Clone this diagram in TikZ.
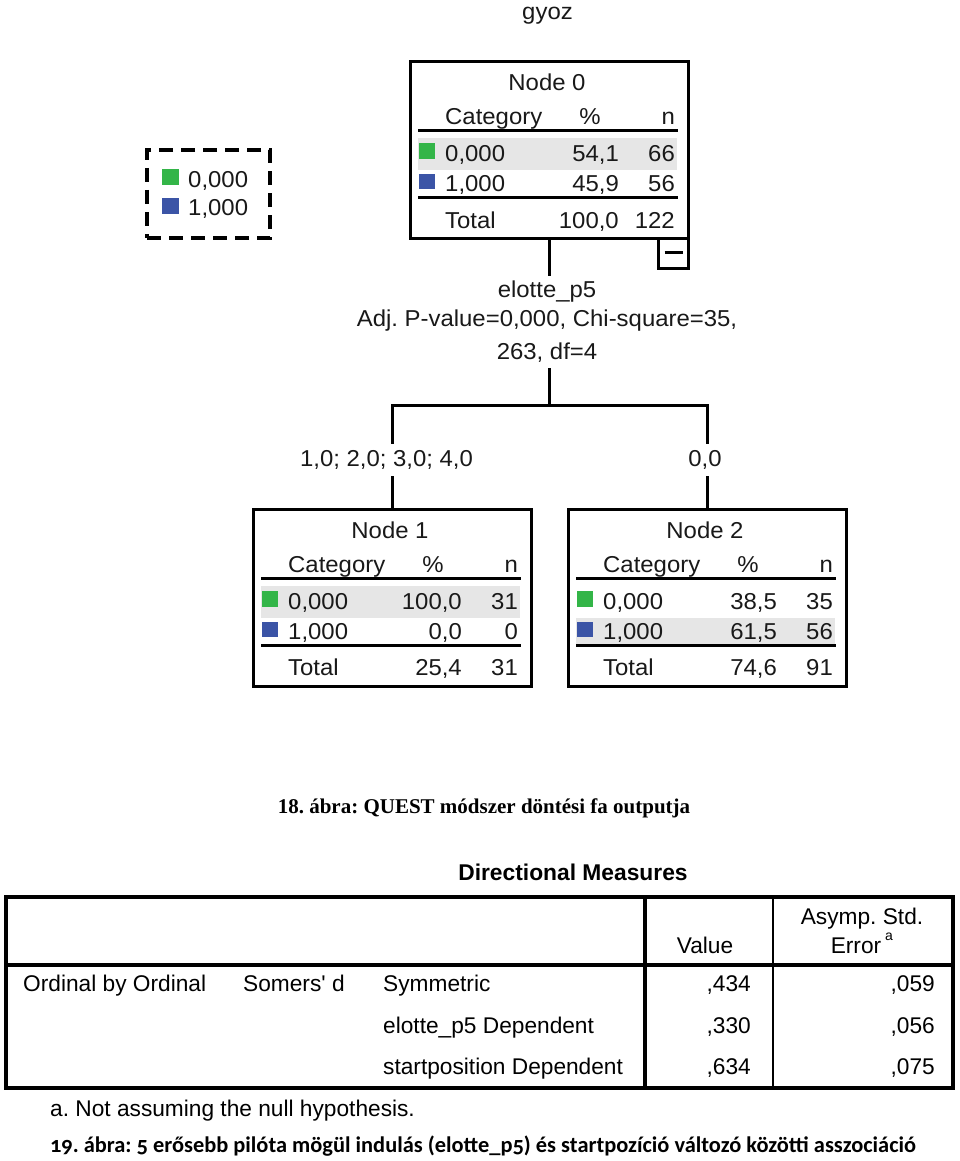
\documentclass[tikz,border=0pt]{standalone}
\usepackage{fontspec}
\usetikzlibrary{calc}
\newfontfamily\treefont[FakeStretch=1.04]{Liberation Sans}
\newfontfamily\tabfont{Liberation Sans}
\newfontfamily\capfontA{Liberation Serif}
\newfontfamily\capfontB[Numbers=OldStyle]{Carlito}
\definecolor{catgreen}{HTML}{33B548}
\definecolor{catblue}{HTML}{3B54A6}
\definecolor{bandgray}{HTML}{E6E6E6}
\frenchspacing
\tikzset{
  treetext/.style={font=\treefont\fontsize{23}{28}\selectfont, inner sep=0pt, text=black!90},
  tabtext/.style={font=\tabfont\fontsize{22.7}{27}\selectfont, inner sep=0pt},
  treebox/.style={draw, line width=3pt, minimum width=278.5pt, minimum height=177pt,
    inner sep=0pt, outer sep=0pt, anchor=north west},
  rulel/.style={line width=3pt},
  conn/.style={line width=3pt},
  brlabel/.style={treetext, text height=16pt, text depth=4pt, inner ysep=6pt, anchor=base},
}
\newcommand\NodeBody[8]{%
  \node[treebox] (#1) at (0,0) {};
  \node[treetext, anchor=base] (#1t) at (137,29.5) {#2};
  \node[treetext, anchor=base west] (#1c) at (35,63.5) {Category};
  \node[treetext, anchor=base] (#1p) at (180,63.5) {\%};
  \node[treetext, anchor=base east] (#1n) at (265,63.5) {n};
  \draw[rulel] (8,69.5) -- (268,69.5);
  \fill[catgreen] (9,81.5) rectangle (25,97.5);
  \fill[catblue] (9,112.5) rectangle (25,127.5);
  \node[treetext, anchor=base west] (#1a) at (35,100) {0,000};
  \node[treetext, anchor=base east] (#1ap) at (209,100) {#3};
  \node[treetext, anchor=base east] (#1an) at (265,100) {#4};
  \node[treetext, anchor=base west] (#1b) at (35,130) {1,000};
  \node[treetext, anchor=base east] (#1bp) at (209,130) {#5};
  \node[treetext, anchor=base east] (#1bn) at (265,130) {#6};
  \draw[rulel] (8,136) -- (268,136);
  \node[treetext, anchor=base west] (#1s) at (35,166.5) {Total};
  \node[treetext, anchor=base east] (#1sp) at (209,166.5) {#7};
  \node[treetext, anchor=base east] (#1sn) at (265,166.5) {#8};
}
\begin{document}
\begin{tikzpicture}[x=1pt,y=-1pt]
\useasboundingbox[fill=white] (0,0) rectangle (960,1161);

% title
\node[treetext, anchor=base] (gyoz) at (547.5,20) {gyoz};

% legend
\node[draw, dash pattern=on 14pt off 8pt, line width=3.5pt, minimum width=123pt,
  minimum height=88pt, anchor=north west, outer sep=0pt, inner sep=0pt] (legend) at (147,150) {};
\fill[catgreen] (162,169) rectangle (179,185);
\fill[catblue] (162,198) rectangle (179,214);
\node[treetext, anchor=base west] (leg0) at (188,187) {0,000};
\node[treetext, anchor=base west] (leg1) at (188,215) {1,000};

% tree nodes
\begin{scope}[shift={(410,61.5)}]
  \fill[bandgray] (8,77) rectangle (267,108.5);
  \NodeBody{n0}{Node 0}{54,1}{66}{45,9}{56}{100,0}{122}
\end{scope}
\begin{scope}[shift={(253,509)}]
  \fill[bandgray] (8,77) rectangle (267,108.5);
  \NodeBody{n1}{Node 1}{100,0}{31}{0,0}{0}{25,4}{31}
\end{scope}
\begin{scope}[shift={(568,509)}]
  \fill[bandgray] (8,108.5) rectangle (267,135);
  \NodeBody{n2}{Node 2}{38,5}{35}{61,5}{56}{74,6}{91}
\end{scope}

% collapse box
\node[draw, line width=3pt, minimum width=30pt, minimum height=29.5pt, anchor=north east,
  outer sep=0pt, inner sep=0pt] (col) at (n0.south east) {};
\draw[line width=2.5pt] ($(col.center)+(-9,-1)$) -- ($(col.center)+(9,-1)$);

% split label
\node[treetext, inner ysep=4pt, anchor=base] (split1) at (547,297) {elotte\_p5};
\node[treetext, anchor=base] (split2) at (547,326) {Adj. P-value=0,000, Chi-square=35,};
\node[treetext, text depth=4pt, inner ysep=5pt, anchor=base] (split3) at (547,359) {263, df=4};

% branch labels
\node[brlabel] (l1) at (386.5,466) {1,0; 2,0; 3,0; 4,0};
\node[brlabel] (l2) at (705,466) {0,0};

% connectors
\coordinate (fork) at (549.25,405);
\draw[conn] (n0.south) -- (n0.south |- split1.north);
\draw[conn] (split3.south -| fork) -- (fork);
\draw[conn] (l1.north -| n1.north) |- (fork -| n2.north) -- (l2.north -| n2.north);
\draw[conn] (l1.south -| n1.north) -- (n1.north);
\draw[conn] (l2.south -| n2.north) -- (n2.north);

% caption 1
\node[font=\capfontA\bfseries\fontsize{21}{25}\selectfont, inner sep=0pt, anchor=base] (cap1)
  at (484,813) {18. ábra: QUEST módszer döntési fa outputja};

% table
\node[tabtext, font=\tabfont\bfseries\fontsize{22.8}{27}\selectfont, anchor=base] (tabtitle)
  at (573,880) {Directional Measures};
\draw[line width=4pt] (6,897) rectangle (953,1088);
\draw[line width=3.5pt] (6,965) -- (953,965);
\draw[line width=3.5pt] (645,897) -- (645,1088);
\draw[line width=2pt] (773,897) -- (773,1088);
\node[tabtext, anchor=base] (hval) at (705,953) {Value};
\node[tabtext, text depth=0pt, anchor=base] (hase1) at (862,924) {Asymp. Std.};
\node[tabtext, anchor=base] (hase2) at (856,953) {Error};
\node[tabtext, font=\tabfont\fontsize{14}{17}\selectfont, anchor=base] (hsup) at (889,940) {a};
\node[tabtext, anchor=base west] (r1a) at (23,991) {Ordinal by Ordinal};
\node[tabtext, anchor=base west] (r1b) at (243,991) {Somers' d};
\node[tabtext, anchor=base west] (r1c) at (383,991) {Symmetric};
\node[tabtext, anchor=base east] (r1v) at (751,991) {,434};
\node[tabtext, anchor=base east] (r1e) at (935,991) {,059};
\node[tabtext, anchor=base west] (r2c) at (383,1033) {elotte\_p5 Dependent};
\node[tabtext, anchor=base east] (r2v) at (751,1033) {,330};
\node[tabtext, anchor=base east] (r2e) at (935,1033) {,056};
\node[tabtext, anchor=base west] (r3c) at (383,1074) {startposition Dependent};
\node[tabtext, anchor=base east] (r3v) at (751,1074) {,634};
\node[tabtext, anchor=base east] (r3e) at (935,1074) {,075};
\node[tabtext, anchor=base west] (foot) at (50,1116) {a. Not assuming the null hypothesis.};

% caption 2
\node[font=\capfontB\bfseries\fontsize{22.4}{26}\selectfont, inner sep=0pt, anchor=base] (cap2)
  at (483,1152) {19. ábra: 5 erősebb pilóta mögül indulás (elotte\_p5) és startpozíció változó közötti asszociáció};
\end{tikzpicture}
\end{document}
